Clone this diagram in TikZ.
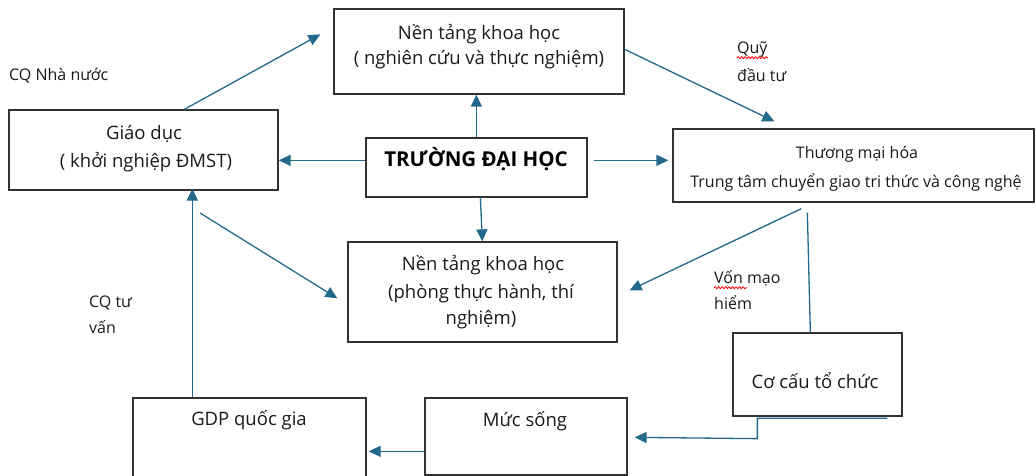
\documentclass[tikz,border=0pt]{standalone}
\usepackage{fontspec}
\setmainfont{Open Sans}
\usetikzlibrary{arrows.meta,calc,decorations.pathmorphing}
\definecolor{arr}{HTML}{22698C}
\definecolor{boxc}{HTML}{333333}
\definecolor{txt}{HTML}{1A1A1A}
\begin{document}
\begin{tikzpicture}[x=1pt,y=-1pt,
 box/.style={draw=boxc,line width=1.3pt,inner sep=0pt},
 conn/.style={draw=arr,line width=1.3pt,-{Triangle[length=12pt,width=11pt]}},
 plainconn/.style={draw=arr,line width=1.3pt},
 tb/.style={inner sep=0pt,text=txt,anchor=mid,yshift=-3.5pt,font=\fontsize{18.5}{22}\selectfont},
 ts/.style={inner sep=0pt,text=txt,anchor=mid,yshift=-3pt,font=\fontsize{16}{19}\selectfont},
 tbold/.style={inner sep=0pt,text=black,anchor=mid,yshift=-3pt,font=\fontsize{20.5}{24}\selectfont\bfseries},
 lab/.style={inner sep=0pt,text=txt,anchor=mid west,yshift=-3pt,font=\fontsize{16}{19}\selectfont},
 wavy/.style={draw=red,line width=0.8pt,decorate,decoration={snake,amplitude=1pt,segment length=3.5pt}}]
\useasboundingbox (0,0) rectangle (1036,476);
% boxes
\node[box,minimum width=290pt,minimum height=85pt] (top) at (479,51.5) {};
\node[box,minimum width=269pt,minimum height=80pt] (gd) at (143.5,150) {};
\node[box,minimum width=221pt,minimum height=59pt] (tdh) at (476.5,167.5) {};
\node[box,minimum width=361pt,minimum height=73pt] (tm) at (853.5,165.5) {};
\node[box,minimum width=269pt,minimum height=100pt] (nt) at (482.5,292) {};
\node[box,minimum width=169pt,minimum height=83pt] (cc) at (817.5,374.5) {};
\node[box,minimum width=233pt,minimum height=84pt] (gdp) at (249.5,440) {};
\node[box,minimum width=202pt,minimum height=77pt] (ms) at (526,436.5) {};
% box texts
\node[tb] (top1) at (479,33) {Nền tảng khoa học};
\node[tb] (top2) at (479,58) {( nghiên cứu và thực nghiệm)};
\node[tb] (gd1) at (144,133) {Giáo dục};
\node[tb] (gd2) at (146,161) {( khởi nghiệp ĐMST)};
\node[tbold] (tdh1) at (476,161) {TRƯỜNG ĐẠI HỌC};
\node[ts] (tm1) at (857,153) {Thương mại hóa};
\node[ts] (tm2) at (856,182) {Trung tâm chuyển giao tri thức và công nghệ};
\node[tb] (nt1) at (483,264) {Nền tảng khoa học};
\node[tb] (nt2) at (481,292) {(phòng thực hành, thí};
\node[tb] (nt3) at (481,318) {nghiệm)};
\node[tb] (cc1) at (815,382) {Cơ cấu tổ chức};
\node[tb] (gdp1) at (249,419) {GDP quốc gia};
\node[tb] (ms1) at (525,420) {Mức sống};
% free labels
\node[lab] (l1) at (9,75) {CQ Nhà nước};
\node[lab] (l2) at (737,48) {Quỹ};
\node[lab] (l3) at (737,76) {đầu tư};
\node[lab] (l4) at (714,278) {Vốn mạo};
\node[lab] (l5) at (714,304) {hiểm};
\node[lab] (l6) at (89,302) {CQ tư};
\node[lab] (l7) at (89,328) {vấn};
\draw[wavy] ($(l2.base west)+(0,4)$) -- ($(l2.base east)+(0,4)$);
\draw[wavy] ($(l4.base west)+(0,4)$) -- ($(l4.base west)+(33,4)$);
% connectors
\coordinate (s12) at (200,213);
\draw[conn] ($(gd.north west)+(176,0)$) -- ($(top.north west)+(-13,26)$);
\draw[conn] ($(tdh.north west)+(111,0)$) -- ($(top.south west)+(143,0)$);
\draw[conn] ($(tdh.north west)+(0,23)$) -- ($(gd.north east)+(0,51)$);
\draw[conn] ($(tdh.south west)+(115,0)$) -- ($(nt.north west)+(135,0)$);
\draw[conn] ($(tdh.north east)+(6,23)$) -- ($(tm.north west)+(-4,32)$);
\draw[conn] ($(top.north east)+(0,41)$) -- ($(tm.north west)+(102,-7)$);
\draw[conn] ($(tm.south west)+(129,6)$) -- ($(nt.north east)+(12,49)$);
\draw[plainconn] ($(tm.south west)+(135,10)$) -- ($(cc.north west)+(78,0)$);
\draw[conn] ($(cc.south west)+(155,1.5)$) -- ($(cc.south west)+(25,1.5)$) -- ($(cc.south west)+(25,22)$) -- ($(ms.north east)+(7,40)$);
\draw[conn] ($(ms.north west)+(0,54)$) -- ($(gdp.north east)+(2,54)$);
\draw[conn] ($(gdp.north west)+(60,0)$) -- ($(gd.south west)+(184,-2)$);
\draw[conn] (s12) -- ($(nt.north west)+(-10,57)$);
\end{tikzpicture}
\end{document}
